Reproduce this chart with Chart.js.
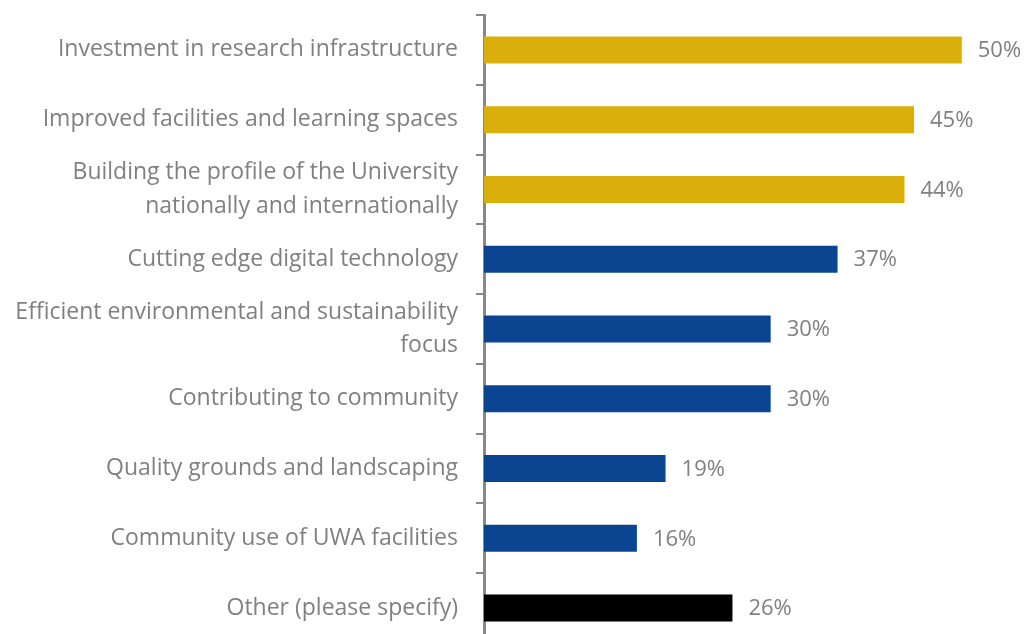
<meta charset="utf8"/>
<style>
html, body { margin: 0; padding: 0; background: #fff; }
#clip { width: 1027px; height: 634px; overflow: hidden; }
#wrap { width: 1027px; height: 643px; position: relative; }
</style>
<div id="clip"><div id="wrap"><canvas id="_chart"></canvas></div></div>
<script src="https://cdn.jsdelivr.net/npm/chart.js"></script>
<script>
const labels = [
	'Investment in research infrastructure',
	'Improved facilities and learning spaces',
	['Building the profile of the University', 'nationally and internationally'],
	'Cutting edge digital technology',
	['Efficient environmental and sustainability', 'focus'],
	'Contributing to community',
	'Quality grounds and landscaping',
	'Community use of UWA facilities',
	'Other (please specify)',
];
const values = [50, 45, 44, 37, 30, 30, 19, 16, 26];
const colors = ['#DAAF0B', '#DAAF0B', '#DAAF0B', '#0B4591', '#0B4591', '#0B4591', '#0B4591', '#0B4591', '#000000'];

const FONT = '"Open Sans"';
const GREY = '#808080';

// percent text just past the end of each bar
const valueLabels = {
	id: 'valueLabels',
	afterDatasetsDraw(chart) {
		const ctx = chart.ctx;
		const meta = chart.getDatasetMeta(0);
		ctx.save();
		ctx.font = '22px ' + FONT;
		ctx.fillStyle = GREY;
		ctx.textAlign = 'left';
		ctx.textBaseline = 'middle';
		meta.data.forEach((bar, i) => {
			ctx.fillText(values[i] + '%', bar.x + 16, bar.y + 1);
		});
		ctx.restore();
	}
};

new Chart(_chart, {
	type: 'bar',
	data: {
		labels: labels,
		datasets: [{
			data: values,
			backgroundColor: colors,
			barPercentage: 0.387,
			categoryPercentage: 1,
		}]
	},
	options: {
		indexAxis: 'y',
		responsive: true,
		maintainAspectRatio: false,
		animation: false,
		layout: {padding: {top: 15, right: 27, bottom: 0, left: 0}},
		scales: {
			x: {
				display: false,
				min: 0,
				max: 54,
			},
			y: {
				// fixed axis width, no extra room for the outer labels
				afterFit: s => { s.width = 484; s.paddingTop = 0; s.paddingBottom = 0; },
				border: {color: '#888888', width: 3},
				grid: {
					display: true,
					drawOnChartArea: false,
					offset: true,
					tickLength: 8,
					color: '#888888',
					lineWidth: 2,
				},
				ticks: {
					autoSkip: false,
					color: GREY,
					padding: 18,
					font: {family: FONT, size: 23, lineHeight: 1.45},
				},
			}
		},
		plugins: {
			legend: {display: false},
			tooltip: {enabled: false},
		}
	},
	plugins: [valueLabels]
});
</script>
